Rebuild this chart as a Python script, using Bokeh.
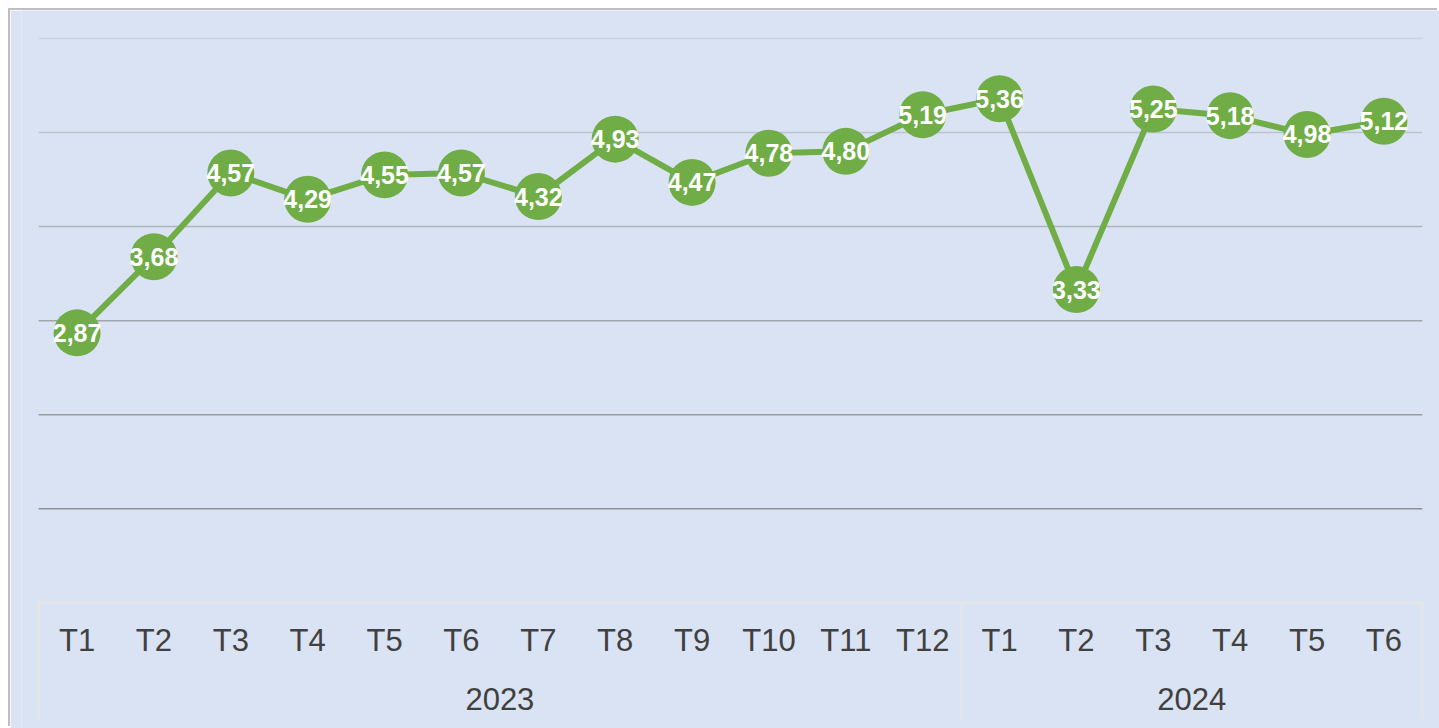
from bokeh.plotting import figure
from bokeh.models import FactorRange, ColumnDataSource, Range1d
from bokeh.core.properties import value
from bokeh.embed import file_html
from bokeh.resources import INLINE

# ---- data ----
years = ["2023", "2024"]
months_2023 = ["T1", "T2", "T3", "T4", "T5", "T6", "T7", "T8", "T9", "T10", "T11", "T12"]
months_2024 = ["T1", "T2", "T3", "T4", "T5", "T6"]
values = [2.87, 3.68, 4.57, 4.29, 4.55, 4.57, 4.32, 4.93, 4.47, 4.78, 4.80, 5.19,
          5.36, 3.33, 5.25, 5.18, 4.98, 5.12]
grid_values = [1, 2, 3, 4, 5, 6]

factors = [("2023", m) for m in months_2023] + [("2024", m) for m in months_2024]
labels = [f"{v:.2f}".replace(".", ",") for v in values]

# ---- styles ----
BG = "#dae3f3"
GREEN = "#70ad47"
TEXT = "#404040"
BORDER = "#e4e5e8"
FONT = "Liberation Sans"
grid_colors = ["#8e9297", "#979ba0", "#a1a6ac", "#aeb4bc", "#bcc3cc", "#ccd3de"]

x_range = FactorRange(*factors, factor_padding=0, group_padding=0, subgroup_padding=0,
                      range_padding=0.223, range_padding_units="absolute")

p = figure(width=1429, height=718, x_range=x_range, y_range=Range1d(-1.337, 6.298),
           output_backend="svg", toolbar_location=None,
           min_border_left=11, min_border_right=0, min_border_top=0, min_border_bottom=0)
p.margin = (10, 0, 0, 10)
p.styles = {"box-shadow": "-2px -2px 0 0 #bfbfbf"}
p.xaxis.visible = False
p.yaxis.visible = False
p.xgrid.visible = False
p.ygrid.visible = False
p.background_fill_color = BG
p.border_fill_color = BG
p.outline_line_color = None

n_all = len(factors)
n_first = len(months_2023)

# horizontal gridlines across the category span
p.segment(x0=[0] * len(grid_values), x1=[n_all] * len(grid_values),
          y0=grid_values, y1=grid_values, line_color=grid_colors, line_width=1.5)

# category table borders
p.segment(x0=[0], x1=[n_all], y0=[0], y1=[0], line_color=BORDER, line_width=3)
p.segment(x0=[0, n_first, n_all], x1=[0, n_first, n_all],
          y0=[0, 0, 0], y1=[-1.231, -1.231, -1.231], line_color=BORDER, line_width=3)

# category labels
p.text(x=factors, y=[-0.405] * n_all, text=[f[1] for f in factors],
       text_align="center", text_baseline="middle", text_color=TEXT,
       text_font=value(FONT), text_font_size="31px")
p.text(x=years, y=[-1.025] * len(years), text=years,
       text_align="center", text_baseline="middle", text_color=TEXT,
       text_font=value(FONT), text_font_size="31px")

# series
src = ColumnDataSource(dict(x=factors, y=values, label=labels))
p.line(x="x", y="y", source=src, line_color=GREEN, line_width=6)
p.scatter(x="x", y="y", source=src, size=47, fill_color=GREEN, line_color=None)
p.text(x="x", y="y", text="label", source=src, text_align="center", text_baseline="middle",
       text_color="white", text_font=value(FONT), text_font_style="bold", text_font_size="25px")

open("out.html", "w").write(file_html(p, INLINE))
